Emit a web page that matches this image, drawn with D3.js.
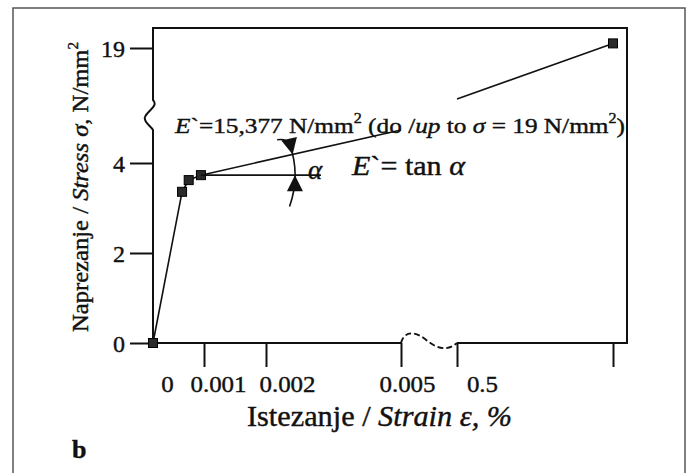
<!DOCTYPE html>
<html><head><meta charset="utf-8">
<script src="https://cdn.jsdelivr.net/npm/d3@7"></script>
<style>
body{margin:0;background:#fff;}
svg text{font-family:"Liberation Serif","Times New Roman",serif;fill:#111;stroke:#111;stroke-width:0.4px;}
</style></head>
<body>
<svg id="chart" width="687" height="473"></svg>
<script>
// ---- data ----
const pointStrain = [0, 0.00057, 0.0007, 0.00094, 1.0];
const pointStress = [0, 3.36, 3.62, 3.73, 19.6];
// curve drawn in two pieces around the strain-axis break
const curveAStrain = [0, 0.00057, 0.0007, 0.00094, 0.005];
const curveAStress = [0, 3.36, 3.62, 3.73, 8.3];
const curveBStrain = [0.5, 1.0];
const curveBStress = [12.35, 19.6];
const xTickValues = [0, 0.001, 0.002, 0.005, 0.5, 1.0];
const xTickLabels = ["0", "0.001", "0.002", "0.005", "0.5", ""];
const yTickValues = [0, 2, 4, 19];
const yTickLabels = ["0", "2", "4", "19"];

// ---- layout ----
const svg = d3.select("#chart");
const L = 153, R = 627, T = 28, B = 343;
const x = d3.scaleLinear().domain([0, 0.001, 0.002, 0.005, 0.5, 1.0]).range([L, 204, 266, 401, 457, 613]);
const y = d3.scaleLinear().domain([0, 4, 19]).range([B, 163, 48]);
const labelDx = [14, 14, 21, 6, 25, 0];

// outer border
svg.append("rect").attr("x", 13).attr("y", 8).attr("width", 672).attr("height", 480)
  .attr("fill", "none").attr("stroke", "#555").attr("stroke-width", 1.5);

// y axis ticks and labels
const yAxis = svg.append("g").attr("transform", `translate(${L},0)`)
  .call(d3.axisLeft(y).tickValues(yTickValues).tickSize(23).tickPadding(5)
    .tickFormat((d, i) => yTickLabels[i]))
  .attr("font-size", 24);
yAxis.select(".domain").remove();
yAxis.selectAll("line").attr("stroke", "#111").attr("stroke-width", 2);
yAxis.selectAll("text").style("font-size", "24px").attr("fill", "#111").attr("dy", "0.36em");

// x axis ticks and labels
const xAxis = svg.append("g").attr("transform", `translate(0,${B})`)
  .call(d3.axisBottom(x).tickValues(xTickValues).tickSize(24).tickPadding(8)
    .tickFormat((d, i) => xTickLabels[i]))
  .attr("font-size", 24);
xAxis.select(".domain").remove();
xAxis.selectAll(".tick").filter(d => d === 0).select("line").remove();
xAxis.selectAll("line").attr("stroke", "#111").attr("stroke-width", 2);
xAxis.selectAll("text").style("font-size", "24px").attr("fill", "#111")
  .attr("x", (d, i) => labelDx[i])
  .each(function () {
    const w = this.getComputedTextLength();
    if (w > 0) d3.select(this).attr("textLength", w * 1.04).attr("lengthAdjust", "spacingAndGlyphs");
  });

// frame and axis lines with breaks
const yb1 = 100, yb2 = 130;
const frame = svg.append("g").attr("fill", "none").attr("stroke", "#111").attr("stroke-width", 2);
frame.append("path").attr("d",
  `M${L},${B}L${L},${yb2} C${L - 2},${yb2 - 4} ${L - 10},${yb2 - 8} ${L - 8},${(yb1 + yb2) / 2 + 2}` +
  ` C${L - 6},${(yb1 + yb2) / 2 - 4} ${L + 6},${yb1 + 6} ${L},${yb1} L${L},${T} L${R},${T} L${R},${B} L${x(0.5)},${B}`);
frame.append("path").attr("d", `M${L},${B}L${x(0.005)},${B}`);
frame.append("path").attr("stroke-dasharray", "6,3").attr("stroke-width", 1.8)
  .attr("d", `M${x(0.005)},${B} C${x(0.005) + 3},${B - 12} ${x(0.005) + 14},${B - 12} ${x(0.005) + 24},${B - 4}` +
    ` C${x(0.005) + 34},${B + 4} ${x(0.5) - 12},${B + 10} ${x(0.5)},${B}`);

// curve
const line = d3.line().x(d => x(d[0])).y(d => y(d[1]));
const curveA = curveAStrain.map((s, i) => [s, curveAStress[i]]);
const curveB = curveBStrain.map((s, i) => [s, curveBStress[i]]);
svg.append("path").attr("d", line(curveA)).attr("fill", "none").attr("stroke", "#111").attr("stroke-width", 1.6);
svg.append("path").attr("d", line(curveB)).attr("fill", "none").attr("stroke", "#111").attr("stroke-width", 1.6);

// markers
const ms = 9;
svg.append("g").selectAll("rect").data(pointStrain.map((s, i) => [s, pointStress[i]])).join("rect")
  .attr("x", d => x(d[0]) - ms / 2).attr("y", d => y(d[1]) - ms / 2)
  .attr("width", ms).attr("height", ms)
  .attr("fill", "#2a2a2a").attr("stroke", "#000").attr("stroke-width", 1);

// angle annotation
const px = x(pointStrain[3]), py = y(pointStress[3]);
const th1 = Math.atan2(y(curveAStress[4]) - py, x(curveAStrain[4]) - px);
const rA = 94;
const ang = svg.append("g").attr("stroke", "#111").attr("fill", "none").attr("stroke-width", 1.6);
ang.append("line").attr("x1", px).attr("y1", py).attr("x2", px + 120).attr("y2", py);
const arcPt = t => [px + rA * Math.cos(t), py + rA * Math.sin(t)];
const arcPath = d3.path();
const tStart = th1 - 0.13, tEnd = 0.34;
const s0 = arcPt(tStart);
arcPath.moveTo(s0[0] - 12, s0[1] - 3);
arcPath.quadraticCurveTo(s0[0] - 3, s0[1] - 4, s0[0], s0[1]);
arcPath.arc(px, py, rA, tStart, tEnd, false);
ang.append("path").attr("d", arcPath.toString());
function arrowHead(t, dir) {
  const [tx, ty] = arcPt(t);
  let ux = -Math.sin(t), uy = Math.cos(t);
  if (dir < 0) { ux = -ux; uy = -uy; }
  const len = 16, hw = 8;
  const bx = tx - ux * len, by = ty - uy * len;
  return `M${tx},${ty}L${bx - uy * hw},${by + ux * hw}L${bx + uy * hw},${by - ux * hw}Z`;
}
svg.append("path").attr("d", arrowHead(th1, 1)).attr("fill", "#111");
svg.append("path").attr("d", arrowHead(0, -1)).attr("fill", "#111");
svg.append("text").attr("x", px + 107).attr("y", py + 4).style("font-size", "27px")
  .style("font-style", "italic").text("α");

// annotation text
const t1 = svg.append("text").attr("x", 175).attr("y", 132.5).style("font-size", "22px")
  .attr("textLength", 450).attr("lengthAdjust", "spacingAndGlyphs");
t1.append("tspan").style("font-style", "italic").text("E");
t1.append("tspan").text("`=15,377 N/mm");
t1.append("tspan").attr("dy", -10).style("font-size", "14px").text("2");
t1.append("tspan").attr("dy", 10).text(" (do /");
t1.append("tspan").style("font-style", "italic").text("up");
t1.append("tspan").text(" to ");
t1.append("tspan").style("font-style", "italic").text("σ");
t1.append("tspan").text(" = 19 N/mm");
t1.append("tspan").attr("dy", -10).style("font-size", "14px").text("2");
t1.append("tspan").attr("dy", 10).text(")");

const t2 = svg.append("text").attr("x", 352).attr("y", 175).style("font-size", "27px")
  .attr("textLength", 113).attr("lengthAdjust", "spacingAndGlyphs");
t2.append("tspan").style("font-style", "italic").text("E");
t2.append("tspan").text("`= tan ");
t2.append("tspan").style("font-style", "italic").text("α");

// axis titles
const xl = svg.append("text").attr("x", 247).attr("y", 426).style("font-size", "29px")
  .attr("textLength", 265).attr("lengthAdjust", "spacingAndGlyphs");
xl.append("tspan").text("Istezanje / ");
xl.append("tspan").style("font-style", "italic").text("Strain ε, %");

const yl = svg.append("text").attr("transform", "translate(88,332) rotate(-90)")
  .style("font-size", "23px").attr("textLength", 290).attr("lengthAdjust", "spacingAndGlyphs");
yl.append("tspan").text("Naprezanje / ");
yl.append("tspan").style("font-style", "italic").text("Stress σ");
yl.append("tspan").text(", N/mm");
yl.append("tspan").attr("dy", -10).style("font-size", "14px").text("2");

svg.append("text").attr("x", 72).attr("y", 458).style("font-size", "26px").style("font-weight", "bold").text("b");
</script>
</body></html>
